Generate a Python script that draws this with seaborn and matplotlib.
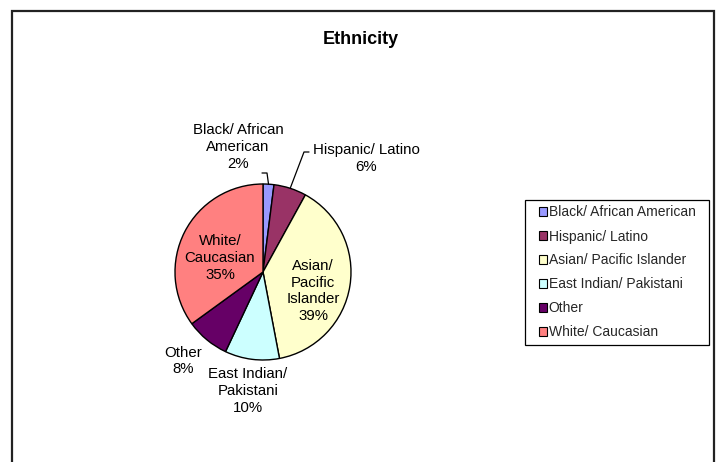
import numpy as np
import matplotlib
matplotlib.use("Agg")
import matplotlib.pyplot as plt
from matplotlib.patches import Rectangle
import seaborn as sns

categories = ["Black/ African American", "Hispanic/ Latino", "Asian/ Pacific Islander",
              "East Indian/ Pakistani", "Other", "White/ Caucasian"]
pie_labels = ["Black/ African\nAmerican", "Hispanic/ Latino", "Asian/\nPacific\nIslander",
              "East Indian/\nPakistani", "Other", "White/\nCaucasian"]
shares = [2, 6, 39, 10, 8, 35]
colors = ["#9999FF", "#993366", "#FFFFCC", "#CCFFFF", "#660066", "#FF8080"]
title = "Ethnicity"

sns.set_theme(style="white")
plt.rcParams["font.family"] = ["Liberation Sans", "DejaVu Sans"]

W, H = 718, 462
fig = plt.figure(figsize=(W / 100, H / 100), dpi=100)

# figure border
fig.patches.append(Rectangle((12 / W, -0.05), (714 - 12) / W, 1.05 - 11 / H,
                             transform=fig.transFigure, fill=False,
                             edgecolor="#222222", linewidth=1.6))

fig.text(361 / W, 1 - 39 / H, title, ha="center", va="center",
         fontsize=13, fontweight="bold", color="black")

# pie axes: centre (263,272), radius 88 px
R = 88
half = 100
ax = fig.add_axes([(263 - half) / W, (H - 272 - half) / H, 2 * half / W, 2 * half / H])
lim = half / R
ax.set_axis_off()

wedges, _ = ax.pie(shares, colors=colors, startangle=90, counterclock=False,
                   radius=1, wedgeprops=dict(edgecolor="black", linewidth=1.0),
                   frame=False)
ax.set_xlim(-lim, lim)
ax.set_ylim(-lim, lim)
ax.set_aspect("auto")

def px(x, y):
    return ((x - 263) / R, (272 - y) / R)

# label positions (pixel centres) - layout only
label_pos = [(238, 147), (366, 158.5), (313, 291), (248, 391), (183, 361), (220, 258)]
fs = 10.8
for lab, val, (lx, ly) in zip(pie_labels, shares, label_pos):
    tx, ty = px(lx, ly)
    ax.text(tx, ty, f"{lab}\n{val}%", ha="center", va="center", fontsize=fs,
            color="black", linespacing=1.27, clip_on=False)

# leader lines for the two small slices
cum = np.cumsum([0] + shares)
total = sum(shares)
def mid_point(i):
    ang = np.deg2rad(90 - 360 * (cum[i] + shares[i] / 2) / total)
    return np.cos(ang), np.sin(ang)

x0, y0 = mid_point(0)
ex, ey = px(267, 173)
hx, hy = px(262, 173)
ax.plot([x0, ex, hx], [y0, ey, hy], color="black", linewidth=0.9, clip_on=False)

x1, y1 = mid_point(1)
ex, ey = px(304, 152)
hx, hy = px(309, 152)
ax.plot([x1, ex, hx], [y1, ey, hy], color="black", linewidth=0.9, clip_on=False)

# legend (frame drawn separately to allow unequal padding)
fig.patches.append(Rectangle((525 / W, 1 - 345 / H), (709 - 525) / W, (345 - 200) / H,
                             transform=fig.transFigure, fill=False,
                             edgecolor="black", linewidth=0.9))
leg = fig.legend(wedges, categories, loc="upper left",
                 bbox_to_anchor=(539 / W, 1 - 205.5 / H), borderaxespad=0,
                 fontsize=10, frameon=False,
                 handlelength=0.58, handleheight=0.58, handletextpad=0.12,
                 labelspacing=0.72, borderpad=0)
for h in leg.legend_handles:
    h.set_edgecolor("black")
    h.set_linewidth(0.8)

fig.savefig("out.png", dpi=100, facecolor="white")
